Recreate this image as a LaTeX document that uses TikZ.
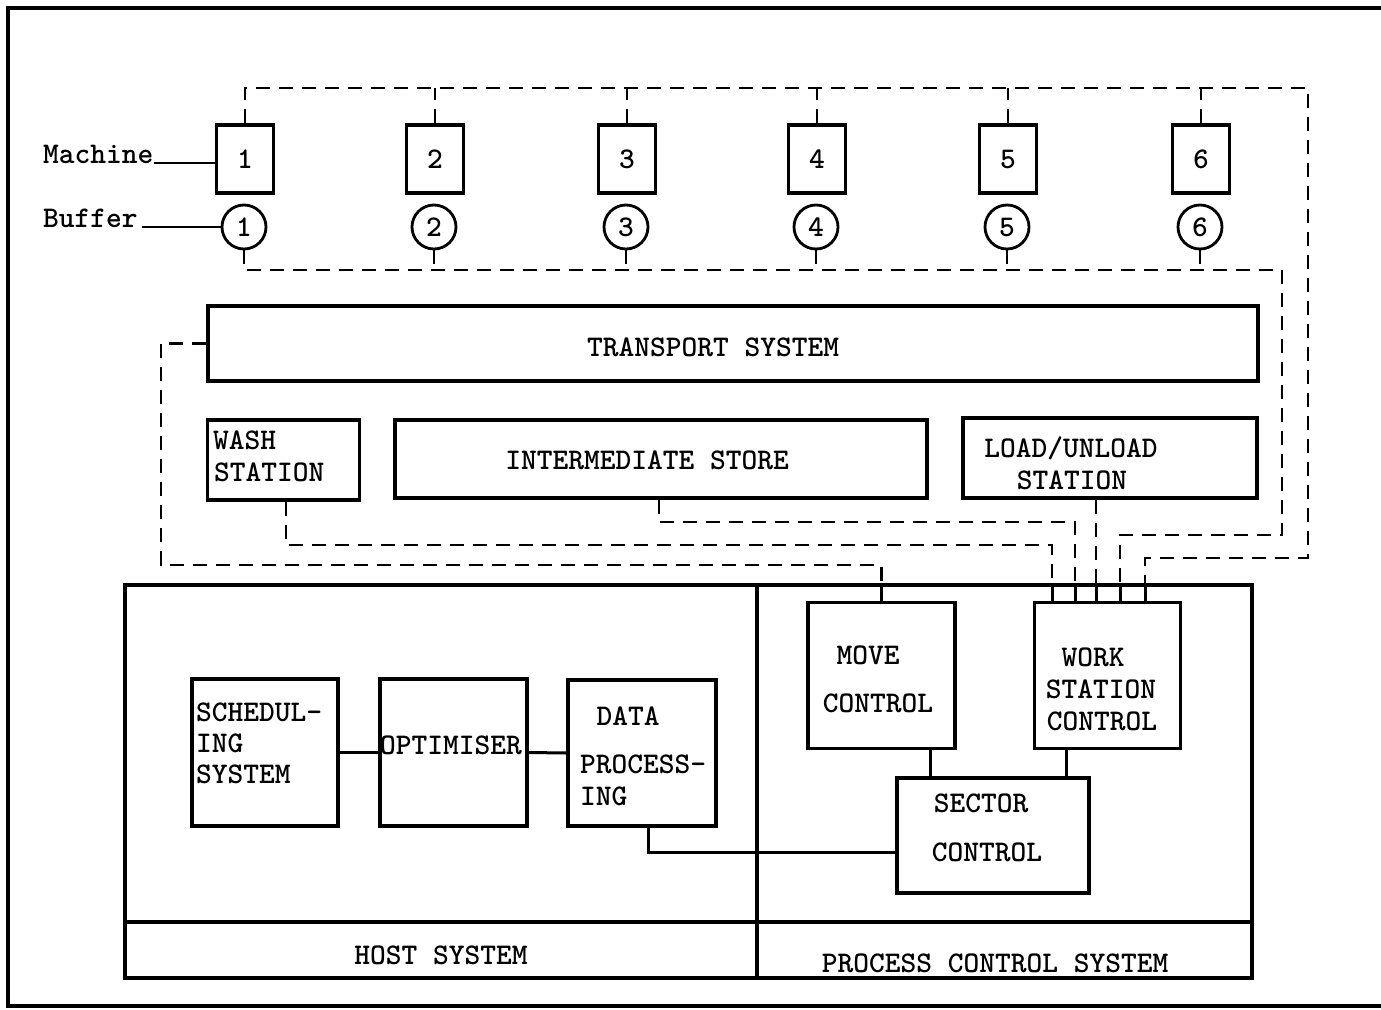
\documentclass[tikz,border=0pt]{standalone}
\begin{document}
\begin{tikzpicture}[x=1pt,y=-1pt,
  box/.style={draw,line width=3.3pt,inner sep=0pt,rectangle},
  buf/.style={draw,line width=2.8pt,circle,inner sep=0pt,minimum size=44pt,font=\fontsize{30}{32}\ttfamily\bfseries},
  mach/.style={box,minimum width=57pt,minimum height=68pt,font=\fontsize{30}{32}\ttfamily\bfseries},
  txt/.style={inner sep=0pt,font=\fontsize{30}{32}\ttfamily\bfseries},
  dl/.style={line width=2.9pt,dash pattern=on 14pt off 9pt},
  sl/.style={line width=3pt}]
\useasboundingbox (0,0) rectangle (1381,1009);
% outer frame (open on the right)
\draw[line width=3.4pt] (1381,8) -- (8,8) -- (8,1006) -- (1381,1006);

% machines and buffers
\foreach \i/\x in {1/245,2/435,3/627,4/817,5/1008,6/1201}{
  \node[mach] (m\i) at (\x,159) {\i};
  \node[buf] (b\i) at (\x-1,227) {\i};
}
\node[txt,anchor=base west] (tMach) at (43,163) {Machine};
\node[txt,anchor=base west] (tBuf) at (43,227) {Buffer};
\draw[line width=2.6pt] (tMach.base east) -- (m1.west |- tMach.base east);
\draw[line width=2.6pt] ([xshift=4pt]tBuf.base east) -- (b1.west);

% boxes
\node[box,minimum width=1050pt,minimum height=75pt] (tr) at (733,343.5) {};
\node[box,minimum width=152pt,minimum height=80pt] (wash) at (283.5,460) {};
\node[box,minimum width=532pt,minimum height=78pt] (is) at (661,459) {};
\node[box,minimum width=294pt,minimum height=80pt] (lu) at (1110,458) {};
\node[box,minimum width=632pt,minimum height=393pt] (host) at (441,781.5) {};
\node[box,minimum width=495pt,minimum height=393pt] (pcs) at (1004.5,781.5) {};
\node[box,minimum width=146pt,minimum height=147pt] (sched) at (265,752.5) {};
\node[box,minimum width=147pt,minimum height=147pt] (opt) at (453.5,752.5) {};
\node[box,minimum width=148pt,minimum height=146pt] (dp) at (642,753) {};
\node[box,minimum width=147pt,minimum height=146pt] (mc) at (881.5,675.5) {};
\node[box,minimum width=146pt,minimum height=146pt] (ws) at (1107.5,675.5) {};
\node[box,minimum width=192pt,minimum height=115pt] (sc) at (993,835.5) {};
\coordinate (foot) at (0,922);
\draw[line width=3.3pt] (host.west |- foot) -- (pcs.east |- foot);

% texts
\node[txt] (tTr) at (713,347) {TRANSPORT SYSTEM};
\node[txt,anchor=west] (tW1) at (213,440) {WASH};
\node[txt,anchor=west] (tW2) at (214,472) {STATION};
\node[txt] (tIs) at (647,460) {INTERMEDIATE STORE};
\node[txt] (tL1) at (1071,448) {LOAD/UNLOAD};
\node[txt] (tL2) at (1072,480) {STATION};
\node[txt,anchor=west] (tS1) at (196,712) {SCHEDUL-};
\node[txt,anchor=west] (tS2) at (196,743) {ING};
\node[txt,anchor=west] (tS3) at (196,774) {SYSTEM};
\node[txt] (tO) at (451,745) {OPTIMISER};
\node[txt] (tD1) at (628,716) {DATA};
\node[txt,anchor=west] (tD2) at (580,764) {PROCESS-};
\node[txt,anchor=west] (tD3) at (580,796) {ING};
\node[txt] (tM1) at (868,655) {MOVE};
\node[txt] (tM2) at (878,703) {CONTROL};
\node[txt] (tWs1) at (1093,657) {WORK};
\node[txt] (tWs2) at (1101,689) {STATION};
\node[txt] (tWs3) at (1102,721) {CONTROL};
\node[txt] (tSc1) at (981,803) {SECTOR};
\node[txt] (tSc2) at (987,852) {CONTROL};
\node[txt] (tH) at (441,955) {HOST SYSTEM};
\node[txt] (tP) at (995,963) {PROCESS CONTROL SYSTEM};

% solid connectors
\draw[sl] (sched.east) -- (opt.west);
\draw[sl] (opt.east) -- (dp.west);
\coordinate (dpc) at (648,852);
\draw[sl] (dpc |- dp.south) -- (dpc) -- (sc.west |- dpc);
\coordinate (mcx) at (930,0);
\coordinate (wsx) at (1066,0);
\draw[sl] (mcx |- mc.south) -- (mcx |- sc.north);
\draw[sl] (wsx |- ws.south) -- (wsx |- sc.north);

% work-station inputs
\coordinate (w1) at (1052,602);
\coordinate (w2) at (1075,602);
\coordinate (w3) at (1096,602);
\coordinate (w4) at (1120,602);
\coordinate (w5) at (1145,602);

% dashed network
\coordinate (topR) at (1308,88);
\coordinate (topRb) at (1308,558);
\coordinate (bufR) at (1282,270);
\coordinate (bufRb) at (1282,535);
\draw[dl] (m1.north) |- (topR) -- (topRb) -| (w5);
\foreach \i in {2,...,6}{\draw[dl] (m\i.north) -- (m\i.north |- topR);}
\draw[dl] (b1.south) |- (bufR) -- (bufRb) -| (w4);
\foreach \i in {2,...,6}{\draw[dl] (b\i.south) -- (b\i.south |- bufR);}
\draw[dl] (w3 |- lu.south) -- (w3);
\coordinate (isc) at (659,522);
\draw[dl] (isc |- is.south) -- (isc) -| (w2);
\coordinate (wac) at (286,545);
\draw[dl] (wac |- wash.south) -- (wac) -| (w1);
\coordinate (trc) at (161,565);
\draw[dl] (tr.west) -- (trc |- tr.west) -- (trc) -| (mc.north);
\foreach \c in {w1,w2,w3,w4,w5}{\draw[sl] (\c) -- ++(0,-18);}
\draw[sl] (mc.north) -- ++(0,-18);
\end{tikzpicture}
\end{document}
